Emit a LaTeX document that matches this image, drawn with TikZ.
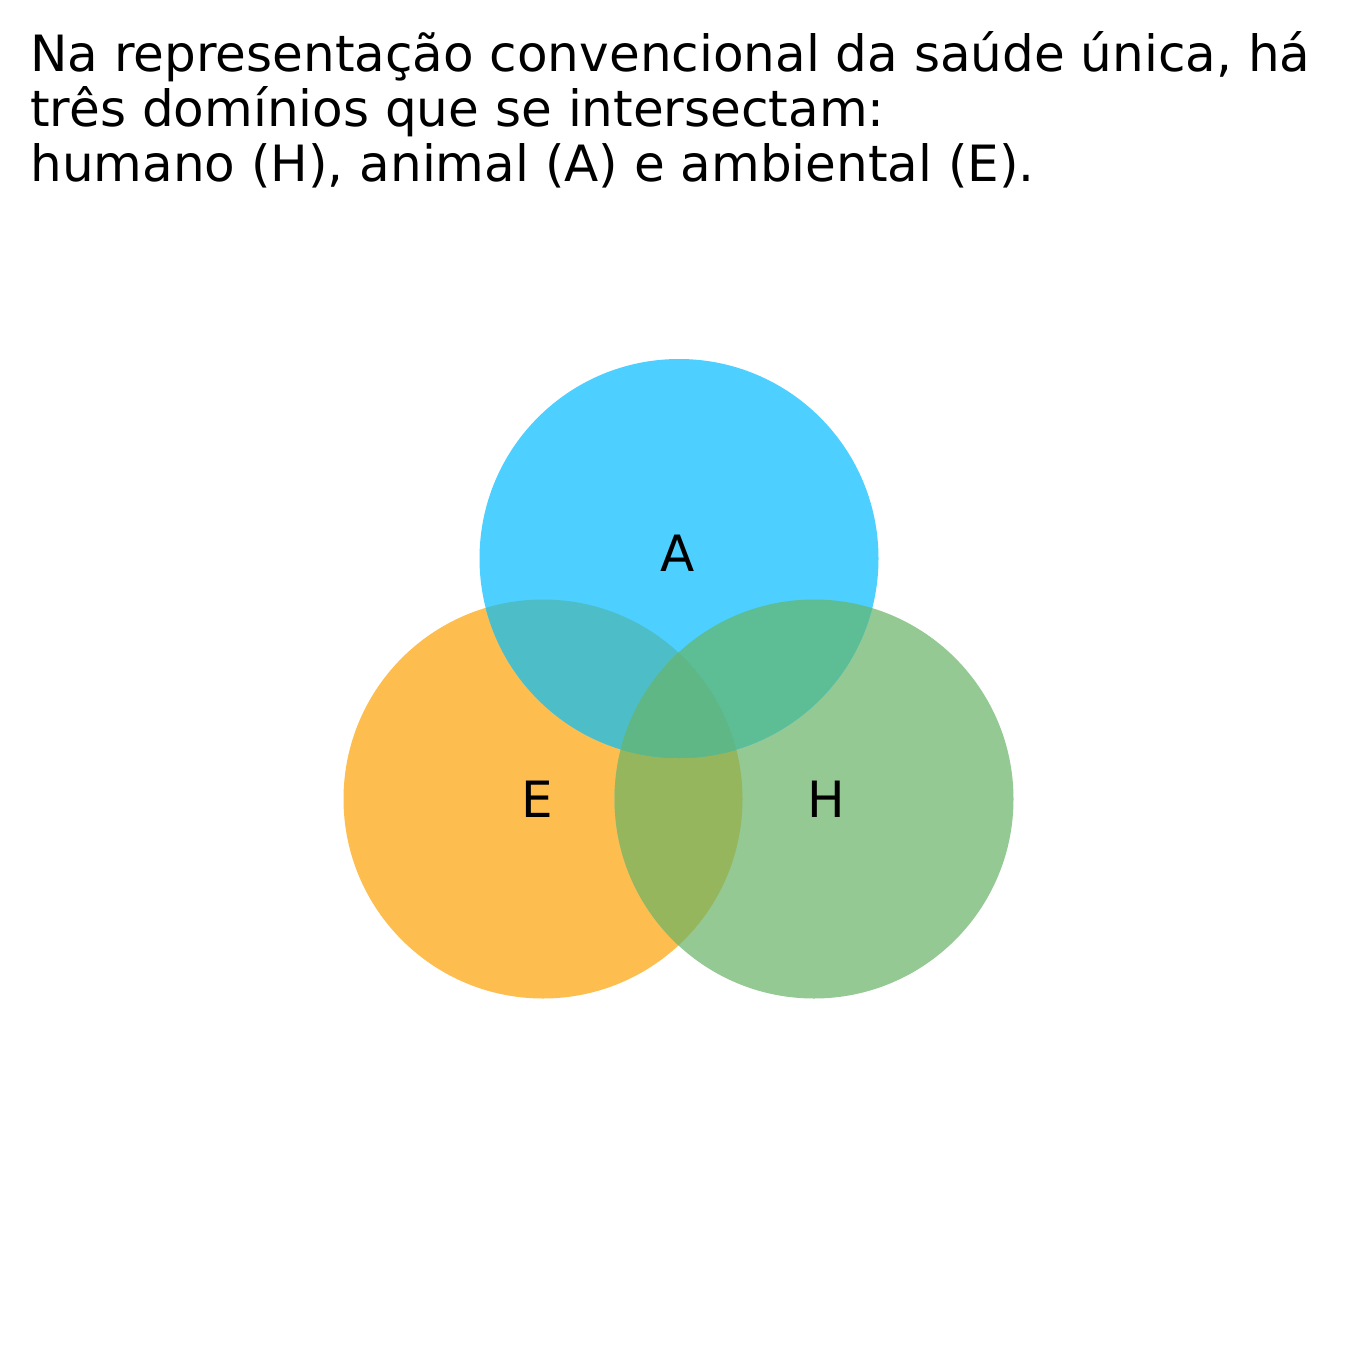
\documentclass[tikz,border=0pt]{standalone}
\usepackage{fontspec}
\setmainfont{DejaVu Sans}
\definecolor{cA}{HTML}{4DD0FF}
\definecolor{cE}{HTML}{FDBE4F}
\definecolor{cH}{HTML}{94C994}
\definecolor{cAE}{HTML}{4DBEC8}
\definecolor{cAH}{HTML}{5DBD95}
\definecolor{cEH}{HTML}{96B65E}
\definecolor{cAEH}{HTML}{60B786}
\begin{document}
\begin{tikzpicture}[x=0.5pt,y=-0.5pt,
  lbl/.style={font=\fontsize{25}{29}\selectfont, inner sep=0pt},
  ttl/.style={font=\fontsize{25}{29}\selectfont, inner sep=0pt, anchor=base west}]
\useasboundingbox (0,0) rectangle (1358,1358);
\def\R{199.5}
\coordinate (ca) at (679,558.5);
\coordinate (ce) at (543,799);
\coordinate (ch) at (814,799);
\fill[cE] (ce) circle[radius=\R];
\fill[cH] (ch) circle[radius=\R];
\fill[cA] (ca) circle[radius=\R];
\begin{scope}
  \clip (ce) circle[radius=\R];
  \fill[cEH] (ch) circle[radius=\R];
  \fill[cAE] (ca) circle[radius=\R];
  \clip (ca) circle[radius=\R];
  \fill[cAEH] (ch) circle[radius=\R];
\end{scope}
\begin{scope}
  \clip (ca) circle[radius=\R];
  \clip (ch) circle[radius=\R];
  \fill[cAH] (ch) circle[radius=\R];
  \clip (ce) circle[radius=\R];
  \fill[cAEH] (ce) circle[radius=\R];
\end{scope}
\node[lbl] (la) at (678,553) {A};
\node[lbl] (le) at (537,799) {E};
\node[lbl] (lh) at (826,799) {H};
\node[ttl] (t1) at (30,72) {Na representação convencional da saúde única, há};
\node[ttl] (t2) at (30,127) {três domínios que se intersectam:};
\node[ttl] (t3) at (30,182) {humano (H), animal (A) e ambiental (E).};
\end{tikzpicture}
\end{document}
